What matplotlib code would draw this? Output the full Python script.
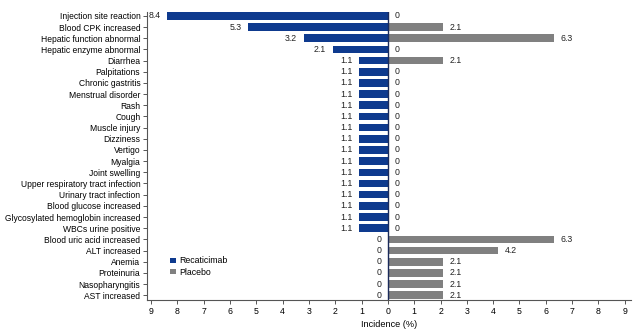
import numpy as np
import matplotlib.pyplot as plt

plt.rcParams['font.family'] = ['Liberation Sans', 'DejaVu Sans']

# Datos
categories = [
    "Injection site reaction", "Blood CPK increased", "Hepatic function abnormal",
    "Hepatic enzyme abnormal", "Diarrhea", "Palpitations", "Chronic gastritis",
    "Menstrual disorder", "Rash", "Cough", "Muscle injury", "Dizziness", "Vertigo",
    "Myalgia", "Joint swelling", "Upper respiratory tract infection",
    "Urinary tract infection", "Blood glucose increased",
    "Glycosylated hemoglobin increased", "WBCs urine positive",
    "Blood uric acid increased", "ALT increased", "Anemia", "Proteinuria",
    "Nasopharyngitis", "AST increased",
]
recaticimab = [8.4, 5.3, 3.2, 2.1, 1.1, 1.1, 1.1, 1.1, 1.1, 1.1, 1.1, 1.1, 1.1,
               1.1, 1.1, 1.1, 1.1, 1.1, 1.1, 1.1, 0, 0, 0, 0, 0, 0]
placebo = [0, 2.1, 6.3, 0, 2.1, 0, 0, 0, 0, 0, 0, 0, 0,
           0, 0, 0, 0, 0, 0, 0, 6.3, 4.2, 2.1, 2.1, 2.1, 2.1]
xticks = np.arange(-9, 10)

blue = "#0e3a8e"
gray = "#808080"

n = len(categories)
y = np.arange(n)[::-1]

fig = plt.figure(figsize=(6.4, 3.33), dpi=100)
ax = fig.add_axes([0.23, 0.099, 0.756, 0.865])

h = 0.68
ax.barh(y, -np.array(recaticimab), height=h, color=blue, label="Recaticimab")
ax.barh(y, placebo, height=h, color=gray, label="Placebo")
ax.axvline(0, color="#1a2a5a", lw=1.0)

fs = 6.3
for yi, r, p in zip(y, recaticimab, placebo):
    ax.text(-r - 0.25, yi, f"{r:g}", ha="right", va="center", fontsize=fs, color="#222222")
    ax.text(p + 0.25, yi, f"{p:g}", ha="left", va="center", fontsize=fs, color="#222222")

ax.set_xlim(-9.15, 9.24)
ax.set_ylim(-0.43, n - 1 + 0.35)
ax.set_yticks(y)
ax.set_yticklabels(categories, fontsize=6.15)
ax.set_xticks(xticks)
ax.set_xticklabels([str(abs(v)) for v in xticks], fontsize=6.3)
ax.set_xlabel("Incidence (%)", fontsize=6.6, labelpad=3)

for s in ["top", "right"]:
    ax.spines[s].set_visible(False)
for s in ["left", "bottom"]:
    ax.spines[s].set_color("#555555")
    ax.spines[s].set_linewidth(0.8)
ax.tick_params(axis="both", length=3, width=0.7, color="#555555", pad=2)

ax.legend(loc="lower left", bbox_to_anchor=(0.035, 0.06), frameon=False,
          fontsize=6.3, handlelength=0.6, handleheight=0.6, handletextpad=0.4,
          labelspacing=0.25, borderpad=0.2)

fig.savefig("out.png", dpi=100)
